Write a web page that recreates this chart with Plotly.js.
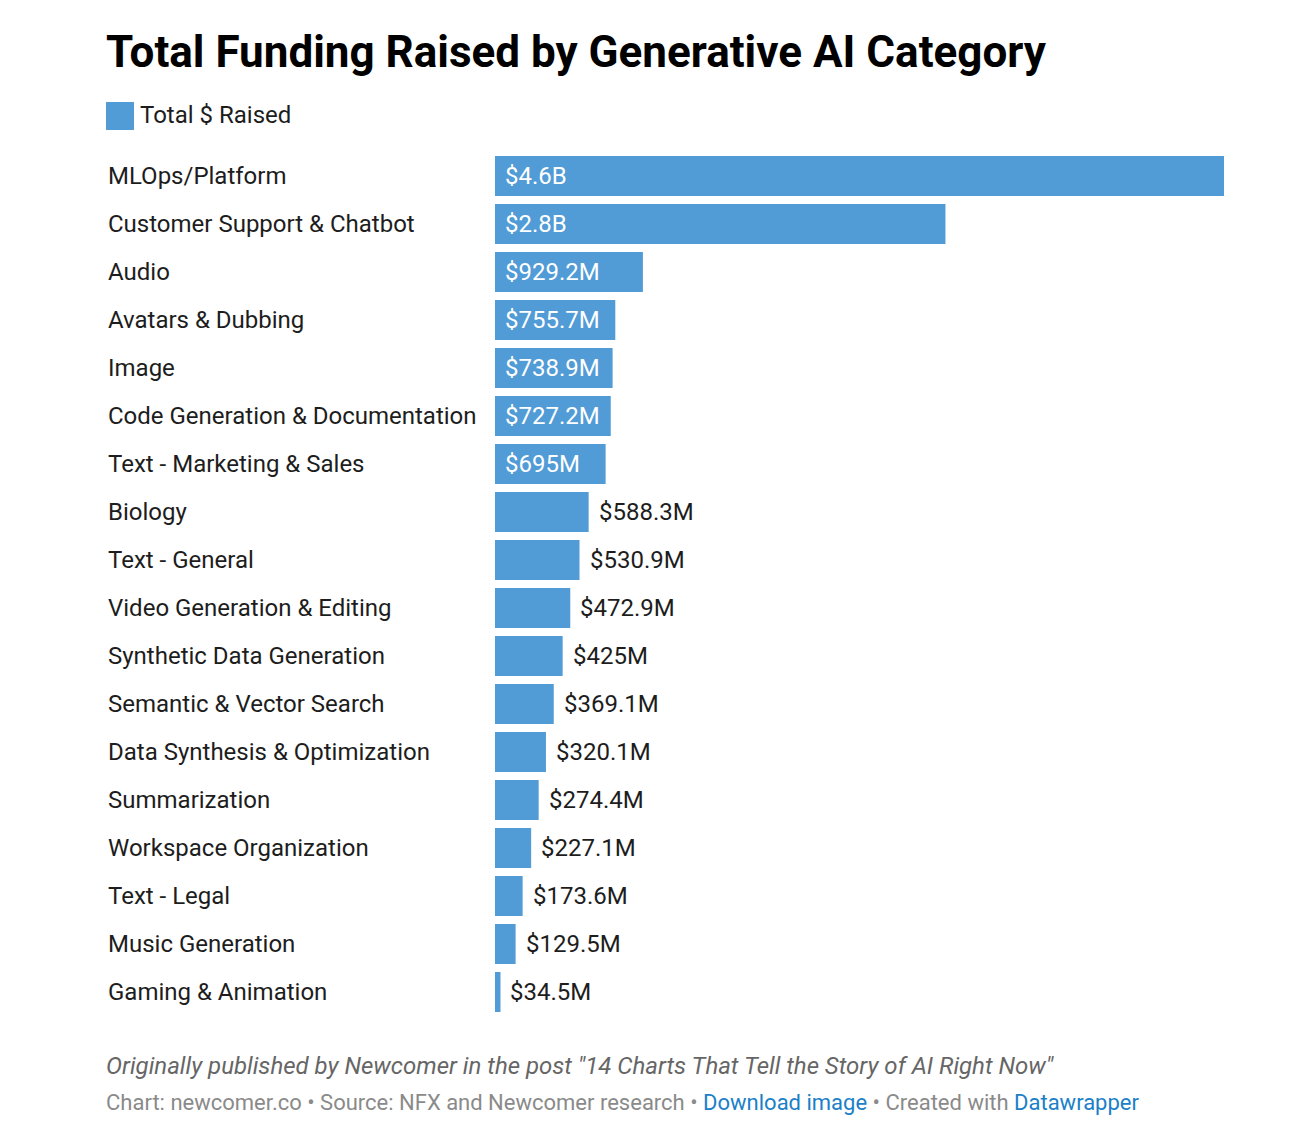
<!DOCTYPE html>
<html>
<head>
<meta charset="utf-8">
<script src="https://cdn.plot.ly/plotly-3.0.1.min.js"></script>
<style>
  html, body { margin: 0; padding: 0; background: #fff; }
  #chart { width: 1314px; height: 1140px; }
</style>
</head>
<body>
<div id="chart"></div>
<script>
// ---- data ----
const categories = [
  "MLOps/Platform",
  "Customer Support & Chatbot",
  "Audio",
  "Avatars & Dubbing",
  "Image",
  "Code Generation & Documentation",
  "Text - Marketing & Sales",
  "Biology",
  "Text - General",
  "Video Generation & Editing",
  "Synthetic Data Generation",
  "Semantic & Vector Search",
  "Data Synthesis & Optimization",
  "Summarization",
  "Workspace Organization",
  "Text - Legal",
  "Music Generation",
  "Gaming & Animation"
];
// values in $ millions
const raisedMillions = [4580, 2830, 929.2, 755.7, 738.9, 727.2, 695, 588.3, 530.9, 472.9, 425, 369.1, 320.1, 274.4, 227.1, 173.6, 129.5, 34.5];
const valueLabels = ["$4.6B", "$2.8B", "$929.2M", "$755.7M", "$738.9M", "$727.2M", "$695M", "$588.3M", "$530.9M", "$472.9M", "$425M", "$369.1M", "$320.1M", "$274.4M", "$227.1M", "$173.6M", "$129.5M", "$34.5M"];
const seriesName = "Total $ Raised";
const insideThreshold = 650; // labels drawn inside bars at or above this value

// ---- layout constants ----
const W = 1314, H = 1140;
const plotLeft = 495, plotRight = 1224, plotTop = 152, plotBottom = 1016;
const plotW = plotRight - plotLeft, plotH = plotBottom - plotTop;
const px2paperX = px => (px - plotLeft) / plotW;
const px2paperY = py => (plotBottom - py) / plotH;
const barColor = "#519bd6";
const font = "Roboto, 'Noto Sans', Arial, sans-serif";

const trace = {
  type: "bar",
  orientation: "h",
  x: raisedMillions,
  y: categories,
  name: seriesName,
  marker: { color: barColor },
  hoverinfo: "skip",
  showlegend: false
};

const annotations = [];
categories.forEach((c, i) => {
  // category label
  annotations.push({
    xref: "paper", yref: "y",
    x: px2paperX(106), y: c,
    xanchor: "left", yanchor: "middle",
    text: c, showarrow: false,
    font: { family: font, size: 24, color: "#1d1d1d" }
  });
  const inside = raisedMillions[i] >= insideThreshold;
  annotations.push({
    xref: "x", yref: "y",
    x: inside ? 0 : raisedMillions[i], y: c,
    xanchor: "left", yanchor: "middle",
    xshift: 8,
    text: valueLabels[i], showarrow: false,
    font: { family: font, size: 24, color: inside ? "#ffffff" : "#1d1d1d" }
  });
});

// legend label
annotations.push({
  xref: "paper", yref: "paper",
  x: px2paperX(138), y: px2paperY(115),
  xanchor: "left", yanchor: "middle",
  text: seriesName, showarrow: false,
  font: { family: font, size: 24, color: "#1d1d1d" }
});
// footer notes
annotations.push({
  xref: "paper", yref: "paper",
  x: px2paperX(104), y: px2paperY(1066),
  xanchor: "left", yanchor: "middle",
  text: "<i>Originally published by Newcomer in the post \"14 Charts That Tell the Story of AI Right Now\"</i>",
  showarrow: false,
  font: { family: font, size: 24, color: "#666666" }
});
annotations.push({
  xref: "paper", yref: "paper",
  x: px2paperX(104), y: px2paperY(1102),
  xanchor: "left", yanchor: "middle",
  text: "Chart: newcomer.co • Source: NFX and Newcomer research • <span style=\"color:#1a80c8\">Download image</span> • Created with <span style=\"color:#1a80c8\">Datawrapper</span>",
  showarrow: false,
  font: { family: font, size: 22, color: "#8a8a8a" }
});

const shapes = [{
  type: "rect", xref: "paper", yref: "paper",
  x0: px2paperX(106), x1: px2paperX(134),
  y0: px2paperY(102), y1: px2paperY(130),
  fillcolor: barColor, line: { width: 0 }
}];

const layout = {
  width: W, height: H,
  margin: { l: plotLeft, r: W - plotRight, t: plotTop, b: H - plotBottom, pad: 0 },
  paper_bgcolor: "#fff",
  plot_bgcolor: "#fff",
  title: {
    text: "<b>Total Funding Raised by Generative AI Category</b>",
    xref: "container", yref: "container",
    x: 106 / W, xanchor: "left",
    y: 1 - 52 / H, yanchor: "middle",
    font: { family: font, size: 44, color: "#000" }
  },
  bargap: 8 / 48,
  xaxis: {
    range: [0, raisedMillions[0]],
    visible: false, fixedrange: true
  },
  yaxis: {
    type: "category",
    categoryorder: "array", categoryarray: categories,
    autorange: "reversed",
    showticklabels: false, showgrid: false, zeroline: false, showline: false,
    ticks: "", fixedrange: true
  },
  annotations: annotations,
  shapes: shapes,
  showlegend: false
};

Plotly.newPlot("chart", [trace], layout, { displayModeBar: false, staticPlot: true });
</script>
</body>
</html>
